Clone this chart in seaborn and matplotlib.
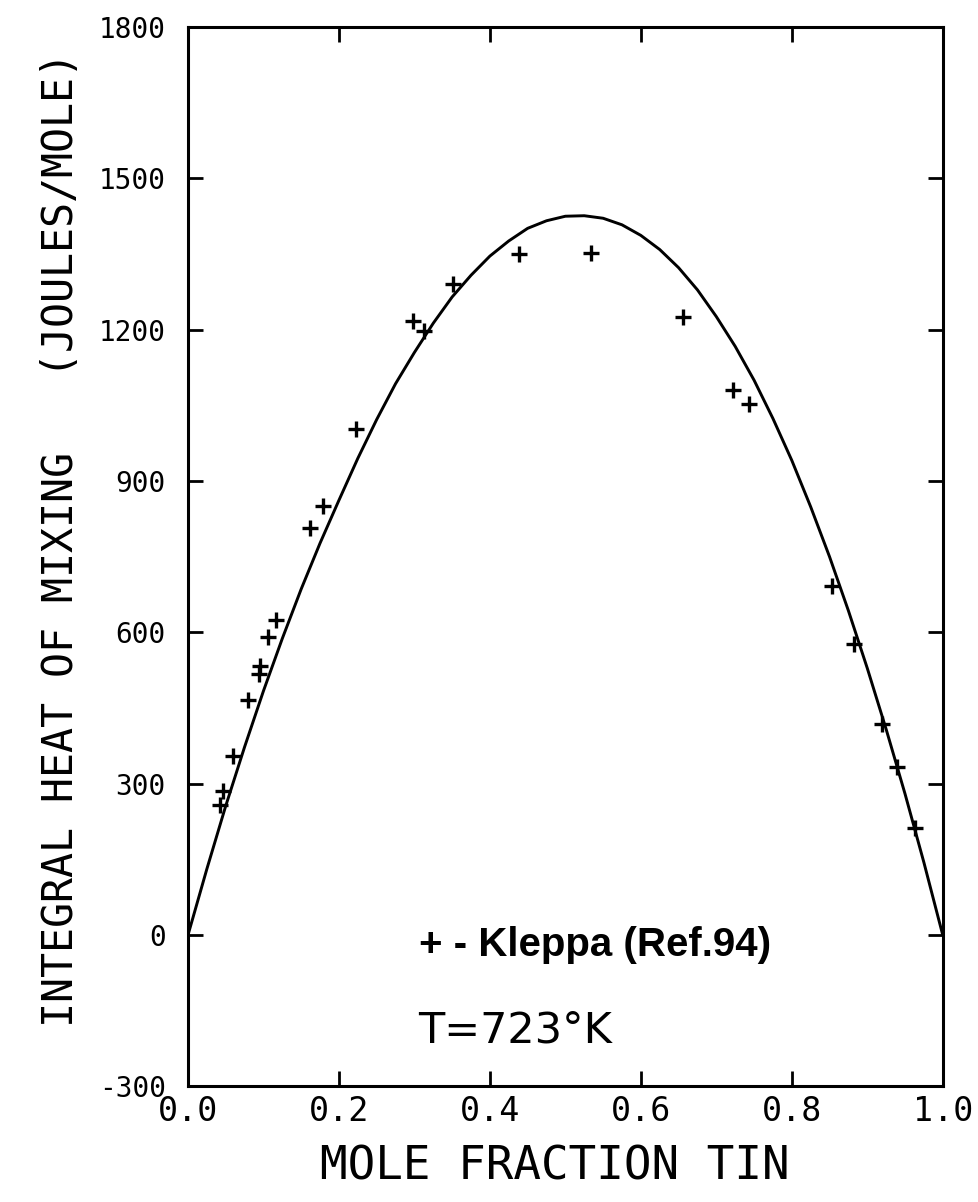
import matplotlib
matplotlib.use("Agg")
import matplotlib.pyplot as plt
import seaborn as sns
import pandas as pd

# Fitted curve
curve_x = [0.0, 0.025, 0.05, 0.075, 0.1, 0.125, 0.15, 0.175, 0.2, 0.225,
           0.25, 0.275, 0.3, 0.325, 0.35, 0.375, 0.4, 0.425, 0.45, 0.475,
           0.5, 0.525, 0.55, 0.575, 0.6, 0.625, 0.65, 0.675, 0.7, 0.725,
           0.75, 0.775, 0.8, 0.825, 0.85, 0.875, 0.9, 0.925, 0.95, 0.975, 1.0]
curve_y = [0, 131, 256, 373, 484, 588, 686, 777, 862, 945,
           1022, 1093, 1155, 1213, 1265, 1308, 1346, 1376, 1401, 1416,
           1425, 1426, 1421, 1408, 1387, 1359, 1323, 1279, 1226, 1167,
           1100, 1024, 941, 849, 750, 643, 529, 408, 280, 144, 0]

# Kleppa (Ref.94) data points
kleppa_x = [0.042, 0.046, 0.060, 0.080, 0.094, 0.095, 0.106, 0.116, 0.162, 0.179,
            0.223, 0.298, 0.313, 0.351, 0.438, 0.534, 0.656, 0.722, 0.743, 0.853,
            0.882, 0.919, 0.940, 0.963]
kleppa_y = [258, 285, 356, 466, 518, 533, 591, 624, 807, 850,
            1004, 1218, 1197, 1290, 1350, 1352, 1225, 1080, 1053, 693,
            578, 418, 334, 212]

x_ticks = [0.0, 0.2, 0.4, 0.6, 0.8, 1.0]
x_ticklabels = ["0.0", "0.2", "0.4", "0.6", "0.8", "1.0"]
y_ticks = [-300, 0, 300, 600, 900, 1200, 1500, 1800]
y_ticklabels = ["-300", "0", "300", "600", "900", "1200", "1500", "1800"]

sns.set_theme(style="ticks")
plt.rcParams["font.family"] = ["DejaVu Sans"]
plt.rcParams["text.color"] = "black"
plt.rcParams["axes.labelcolor"] = "black"

fig = plt.figure(figsize=(9.79, 12.02), dpi=100)
ax = fig.add_axes([0.192, 0.0961, 0.771, 0.8814])

curve_df = pd.DataFrame({"x": curve_x, "y": curve_y})
pts_df = pd.DataFrame({"x": kleppa_x, "y": kleppa_y})

sns.lineplot(data=curve_df, x="x", y="y", ax=ax, color="black", linewidth=2.1,
             sort=False, estimator=None)
sns.scatterplot(data=pts_df, x="x", y="y", ax=ax, marker="+", color="black",
                s=120, linewidth=2.4)

ax.set_xlim(0, 1.0)
ax.set_ylim(-300, 1800)
ax.set_xticks(x_ticks)
ax.set_xticklabels(x_ticklabels, fontfamily="DejaVu Sans Mono", fontsize=24)
ax.set_yticks(y_ticks)
ax.set_yticklabels(y_ticklabels, fontfamily="DejaVu Sans Mono", fontsize=20)
ax.tick_params(axis="y", direction="in", length=11, width=2, right=True,
               colors="black", pad=16)
ax.tick_params(axis="x", direction="in", length=11, width=2, top=True,
               colors="black", pad=6)
for sp in ax.spines.values():
    sp.set_linewidth(2.2)
    sp.set_color("black")

ax.set_xlabel("MOLE FRACTION TIN", fontfamily="DejaVu Sans Mono", fontsize=33,
              color="black")
ax.set_ylabel("INTEGRAL HEAT OF MIXING   (JOULES/MOLE)",
              fontfamily="DejaVu Sans Mono", fontsize=30, color="black")
ax.xaxis.set_label_coords(0.486, -0.055)
ax.yaxis.set_label_coords(-0.140, 0.516)

ax.text(0.539, -20, "+ - Kleppa (Ref.94)", fontsize=29, fontweight="bold",
        fontfamily="Liberation Sans", ha="center", va="center", color="black")
ax.text(0.434, -190, "T=723°K", fontsize=31, fontfamily="DejaVu Sans",
        ha="center", va="center", color="black")

fig.savefig("out.png", dpi=100)
